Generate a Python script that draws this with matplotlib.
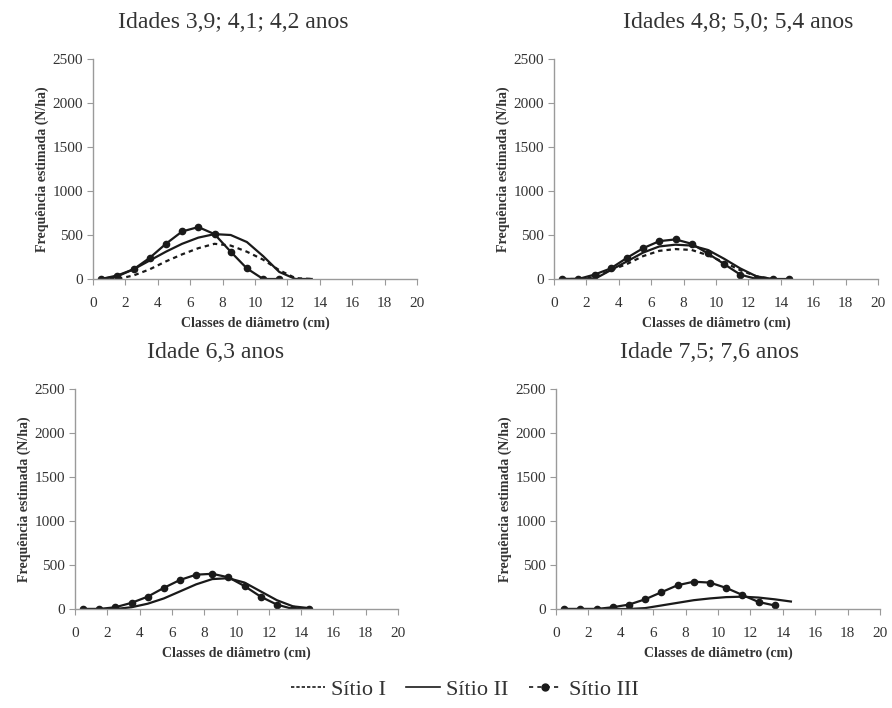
import matplotlib
matplotlib.use("Agg")
import matplotlib.pyplot as plt
from matplotlib.lines import Line2D

plt.rcParams['font.family'] = ['Liberation Serif', 'DejaVu Serif']

# ---- data ----
classes = [0.5, 1.5, 2.5, 3.5, 4.5, 5.5, 6.5, 7.5, 8.5, 9.5, 10.5, 11.5, 12.5, 13.5, 14.5]
titles = ["Idades 3,9; 4,1; 4,2 anos", "Idades 4,8; 5,0; 5,4 anos",
          "Idade 6,3 anos", "Idade 7,5; 7,6 anos"]
xticks = [0, 2, 4, 6, 8, 10, 12, 14, 16, 18, 20]
yticks = [0, 500, 1000, 1500, 2000, 2500]

# Panel 1
p1_sitio1 = [0, 0, 40, 110, 200, 280, 350, 400, 380, 310, 220, 100, 10, 0]
p1_sitio2 = [0, 40, 110, 210, 310, 400, 470, 510, 500, 420, 260, 80, 0, 0]
p1_sitio3 = [0, 30, 110, 240, 400, 540, 590, 510, 310, 120, 0, 0]
# Panel 2
p2_sitio1 = [0, 0, 20, 100, 170, 260, 320, 340, 330, 270, 190, 100, 30, 0]
p2_sitio2 = [0, 0, 0, 100, 200, 300, 370, 390, 380, 330, 230, 120, 30, 0]
p2_sitio3 = [0, 0, 50, 120, 240, 350, 430, 450, 400, 290, 170, 50, 0, 0, 0]
# Panel 3
p3_sitio2 = [0, 0, 0, 20, 60, 120, 200, 280, 340, 350, 300, 200, 100, 30, 10]
p3_sitio3 = [0, 0, 20, 70, 140, 240, 330, 390, 400, 360, 260, 140, 50, 0, 0]
# Panel 4
p4_sitio2 = [0, 0, 0, 0, 0, 10, 40, 70, 100, 120, 135, 140, 130, 110, 85]
p4_sitio3 = [0, 0, 0, 20, 50, 110, 190, 270, 310, 300, 240, 160, 80, 40]

panels = [
    (p1_sitio1, p1_sitio2, p1_sitio3),
    (p2_sitio1, p2_sitio2, p2_sitio3),
    (None, p3_sitio2, p3_sitio3),
    (None, p4_sitio2, p4_sitio3),
]

W, H = 892, 708
fig = plt.figure(figsize=(W / 100, H / 100), dpi=100)

# axes boxes in pixels: (left, top, right, bottom)
boxes = [(93, 59, 417, 279), (554, 59, 878, 279),
         (75, 389, 398, 609), (556, 389, 880, 609)]
title_pos = [(233, 23), (738, 23), (216, 352), (710, 352)]

line_col = '#1a1a1a'
spine_col = '#9a9a9a'

for i, (box, data) in enumerate(zip(boxes, panels)):
    l, t, r, b = box
    ax = fig.add_axes([l / W, 1 - b / H, (r - l) / W, (b - t) / H])
    s1, s2, s3 = data
    if s1 is not None:
        ax.plot(classes[:len(s1)], s1, color=line_col, lw=1.6,
                linestyle=(0, (2, 1.8)))
    ax.plot(classes[:len(s2)], s2, color=line_col, lw=1.6, linestyle='-')
    ax.plot(classes[:len(s3)], s3, color=line_col, lw=1.6, linestyle='-',
            marker='o', markersize=4.5)
    ax.set_xlim(0, 20)
    ax.set_ylim(0, 2500)
    ax.set_xticks(xticks)
    ax.set_yticks(yticks)
    for side in ['top', 'right']:
        ax.spines[side].set_visible(False)
    for side in ['left', 'bottom']:
        ax.spines[side].set_color(spine_col)
        ax.spines[side].set_linewidth(1.0)
    ax.tick_params(axis='both', direction='out', length=4, color=spine_col,
                   labelsize=11, labelcolor='#333333', pad=3)
    ax.tick_params(axis='x', pad=9)
    ax.set_xlabel("Classes de diâmetro (cm)", fontsize=10, fontweight='bold',
                  color='#333333', labelpad=5)
    ax.set_ylabel("Frequência estimada (N/ha)", fontsize=10, fontweight='bold',
                  color='#333333', labelpad=3)
    tx, ty = title_pos[i]
    fig.text(tx / W, 1 - ty / H, titles[i], fontsize=17, color='#333333',
             ha='center', va='center')

handles = [
    Line2D([], [], color=line_col, lw=1.2, linestyle=(0, (2, 1.2))),
    Line2D([], [], color=line_col, lw=1.2, linestyle='-'),
    Line2D([], [], color=line_col, lw=1.2, linestyle=(0, (2.5, 2.5)),
           marker='o', markersize=5),
]
fig.legend(handles, ["Sítio I", "Sítio II", "Sítio III"],
           loc='center', bbox_to_anchor=(465 / W, 1 - 690 / H),
           ncol=3, frameon=False, fontsize=16, handlelength=1.5,
           handletextpad=0.3, columnspacing=0.9,
           labelcolor='#333333')

fig.savefig("out.png", dpi=100, facecolor='white')
